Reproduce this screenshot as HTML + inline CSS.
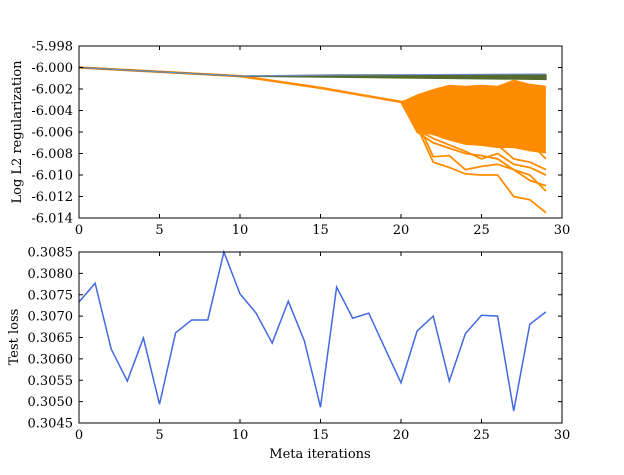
<!DOCTYPE html>
<html><head><meta charset="utf-8"><style>
body{margin:0;background:#fff}
svg text{font-family:"DejaVu Serif","Liberation Serif",serif;font-size:13px;fill:#000}
</style></head><body>
<svg id="c" width="624" height="470" viewBox="0 0 624 470"></svg>
<script>
const iters=[0,1,2,3,4,5,6,7,8,9,10,11,12,13,14,15,16,17,18,19,20,21,22,23,24,25,26,27,28,29];
const testLoss=[0.30733,0.30777,0.30623,0.30548,0.30649,0.30494,0.30661,0.30691,0.30691,0.3085,0.30752,0.30707,0.30637,0.30735,0.30642,0.30487,0.30768,0.30695,0.30707,0.30625,0.30544,0.30665,0.307,0.30548,0.30659,0.30702,0.307,0.30478,0.30681,0.3071];
const baseX=[0,5,10,15,20];
const baseVals=[-6.0000,-6.0004,-6.0008,-6.0019,-6.0032];
const fanX=[20,21,22,23,24,25,26,27,28,29];
const fanUpper=[-6.0032,-6.0025,-6.0020,-6.0016,-6.0017,-6.0016,-6.0017,-6.0013,-6.0015,-6.0017];
const fanLower=[-6.0032,-6.0060,-6.0063,-6.0068,-6.0072,-6.0073,-6.0075,-6.0075,-6.0078,-6.0080];
const fanLine1=[-6.0032,-6.0055,-6.0088,-6.0093,-6.0099,-6.0100,-6.0100,-6.0120,-6.0123,-6.0135];
const fanLine2=[-6.0032,-6.0050,-6.0083,-6.0082,-6.0095,-6.0092,-6.0090,-6.0095,-6.0100,-6.0115];
const fanLine3=[-6.0032,-6.0060,-6.0070,-6.0075,-6.0080,-6.0082,-6.0085,-6.0095,-6.0105,-6.0110];
const fanLine4=[-6.0032,-6.0058,-6.0066,-6.0072,-6.0078,-6.0085,-6.0080,-6.0090,-6.0093,-6.0100];
const fanLine5=[-6.0032,-6.0045,-6.0050,-6.0060,-6.0065,-6.0068,-6.0072,-6.0085,-6.0088,-6.0095];
const fanLine6=[-6.0032,-6.0030,-6.0035,-6.0045,-6.0040,-6.0050,-6.0055,-6.0060,-6.0070,-6.0085];
const fanLine7=[-6.0032,-6.0028,-6.0022,-6.0020,-6.0021,-6.0024,-6.0018,-6.0012,-6.0016,-6.0020];
const greenX=[0,10,16,29];
const greenHi=[-6.0000,-6.0008,-6.0007,-6.0007];
const greenLo=[-6.0000,-6.0008,-6.0009,-6.0011];
const blueVals=[-6.0000,-6.0008,-6.0007,-6.0006];
const topTicks=[-5.998,-6.000,-6.002,-6.004,-6.006,-6.008,-6.010,-6.012,-6.014];
const botTicks=[0.3045,0.3050,0.3055,0.3060,0.3065,0.3070,0.3075,0.3080,0.3085];
const xTicks=[0,5,10,15,20,25,30];

const svg=document.getElementById('c');const NS='http://www.w3.org/2000/svg';
function mk(t,a,p){const e=document.createElementNS(NS,t);for(const k in a)e.setAttribute(k,a[k]);(p||svg).appendChild(e);return e;}
const L=79,R=562;
const X=v=>L+(v/30)*(R-L);
const T0=46,T1=218,B0=252,B1=423;
const YT=v=>T0+(-5.998-v)/0.016*(T1-T0);
const YB=v=>B0+(0.3085-v)/0.004*(B1-B0);
function pts(xs,ys,fy){return xs.map((x,i)=>X(x).toFixed(2)+','+fy(ys[i]).toFixed(2)).join(' ');}

const gt=mk('g',{});


let e=mk('polygon',{points:pts(fanX,fanUpper,YT)+' '+pts(fanX.slice().reverse(),fanLower.slice().reverse(),YT),fill:'#ff8c00'},gt);


[fanLine1,fanLine2,fanLine3,fanLine4,fanLine5,fanLine6,fanLine7].forEach((s,i)=>{
 const l=mk('polyline',{points:pts(fanX,s,YT),fill:'none',stroke:'#ff8c00','stroke-width':1.8},gt);
 
 
});
e=mk('polyline',{points:pts(baseX,baseVals,YT),fill:'none',stroke:'#ff8c00','stroke-width':2.5},gt);


e=mk('polygon',{points:pts(greenX,greenHi,YT)+' '+pts(greenX.slice().reverse(),greenLo.slice().reverse(),YT),fill:'#556b2f',stroke:'#556b2f','stroke-width':1.5},gt);


e=mk('polyline',{points:pts(greenX,blueVals,YT),fill:'none',stroke:'#6f8fd8','stroke-width':1},gt);



e=mk('polyline',{points:pts(iters,testLoss,YB),fill:'none',stroke:'#4169e1','stroke-width':1.5});



function frame(y0,y1,ticks,fy,fmt,name){
 const r=mk('rect',{x:L,y:y0,width:R-L,height:y1-y0,fill:'none',stroke:'#000','stroke-width':1});
 
 
 ticks.forEach(v=>{const y=fy(v);
  mk('line',{x1:L,x2:L+4,y1:y,y2:y,stroke:'#000'});mk('line',{x1:R,x2:R-4,y1:y,y2:y,stroke:'#000'});
  const t=mk('text',{x:L-6,y:y+4.5,'text-anchor':'end'});t.textContent=fmt(v);
  
  
 });
 xTicks.forEach(v=>{const x=X(v);
  mk('line',{x1:x,x2:x,y1:y1,y2:y1-4,stroke:'#000'});mk('line',{x1:x,x2:x,y1:y0,y2:y0+4,stroke:'#000'});
  const t=mk('text',{x:x,y:y1+16,'text-anchor':'middle'});t.textContent=v;
  
  
 });
}
frame(T0,T1,topTicks,YT,v=>v.toFixed(3),'top');
frame(B0,B1,botTicks,YB,v=>v.toFixed(4),'bottom');
let t=mk('text',{x:21,y:132,'text-anchor':'middle',transform:'rotate(-90 21 132)'});t.textContent='Log L2 regularization';


t=mk('text',{x:18,y:337,'text-anchor':'middle',transform:'rotate(-90 18 337)'});t.textContent='Test loss';


t=mk('text',{x:320,y:458,'text-anchor':'middle'});t.textContent='Meta iterations';


</script>
</body></html>
